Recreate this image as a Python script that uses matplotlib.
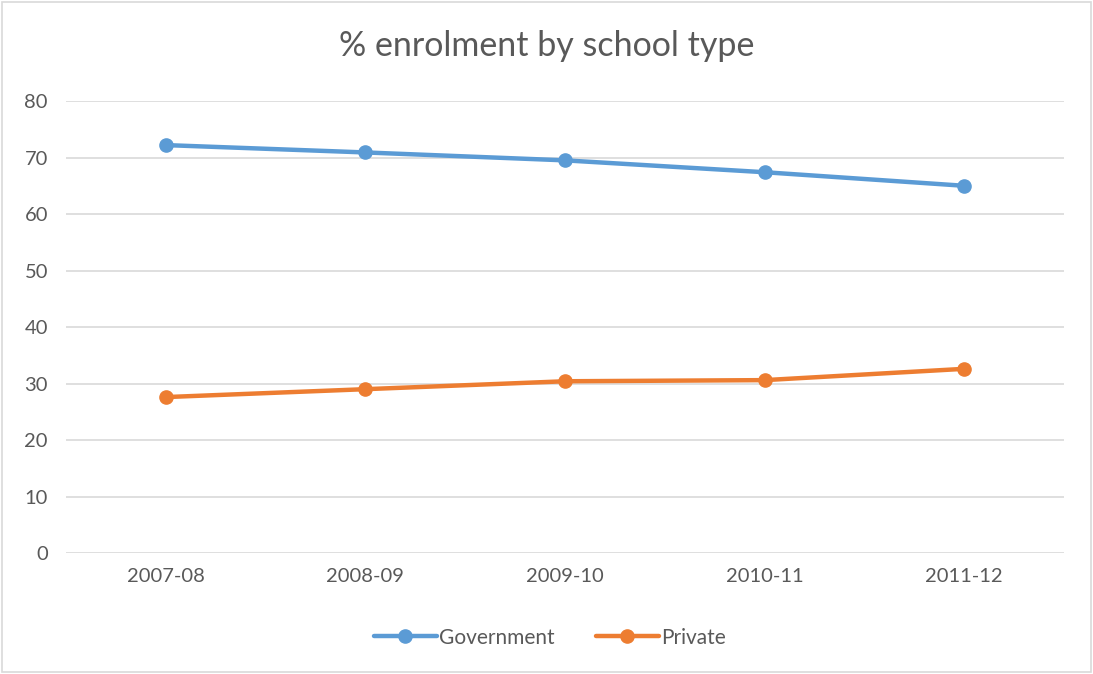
import matplotlib.pyplot as plt
from matplotlib.patches import Rectangle

# Data
years = ['2007-08', '2008-09', '2009-10', '2010-11', '2011-12']
government = [72.2, 70.9, 69.5, 67.4, 65.0]
private = [27.6, 29.0, 30.4, 30.6, 32.6]

plt.rcParams['font.family'] = ['Lato', 'DejaVu Sans']
text_color = '#595959'
grid_color = '#D9D9D9'

fig = plt.figure(figsize=(10.93, 6.74), dpi=100)
ax = fig.add_axes([0.0604, 0.1795, 0.913, 0.6706])

x = range(len(years))
ax.plot(x, government, color='#5B9BD5', lw=3.2, marker='o', ms=9.5, label='Government',
        solid_capstyle='round')
ax.plot(x, private, color='#ED7D31', lw=3.2, marker='o', ms=9.5, label='Private',
        solid_capstyle='round')

ax.set_xlim(-0.5, len(years) - 0.5)
ax.set_ylim(0, 80)
ax.set_yticks(range(0, 81, 10))
ax.set_xticks(list(x))
ax.set_xticklabels(years)
ax.grid(axis='y', color=grid_color, lw=1.2)
ax.set_axisbelow(True)
for s in ax.spines.values():
    s.set_visible(False)
ax.tick_params(length=0, colors=text_color, labelsize=14.5)
ax.tick_params(axis='y', pad=13)
ax.tick_params(axis='x', pad=11)

fig.suptitle('% enrolment by school type', x=0.5, y=0.955, fontsize=24.5, color=text_color)

leg = fig.legend(loc='center', bbox_to_anchor=(0.503, 0.054), ncol=2, frameon=False,
                 fontsize=15, handlelength=3.0, columnspacing=2.0, handletextpad=0.1)
for t in leg.get_texts():
    t.set_color(text_color)

# chart border
fig.patches.append(Rectangle((0.002, 0.003), 0.996, 0.994, transform=fig.transFigure,
                             fill=False, edgecolor=grid_color, lw=1.2))

fig.savefig('out.png', dpi=100)
